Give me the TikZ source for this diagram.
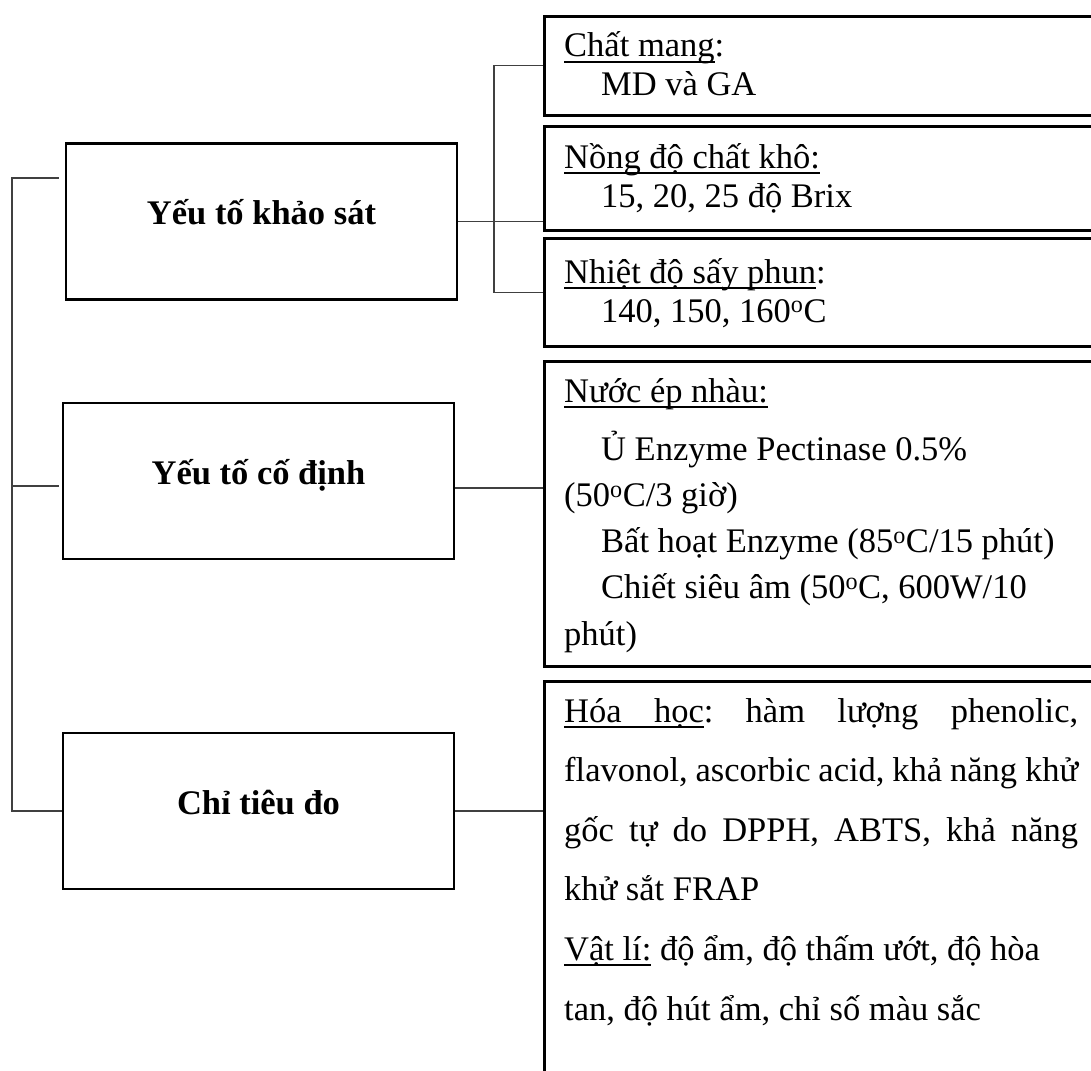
\documentclass[tikz,border=0pt]{standalone}
\usepackage{fontspec}
\setmainfont{Liberation Serif}
\usetikzlibrary{positioning}
\newsavebox{\ulbox}
\newcommand{\ulword}[1]{\sbox{\ulbox}{#1}\rlap{\rule[-5.6pt]{\wd\ulbox}{1.6pt}}\usebox{\ulbox}}
\newcommand{\ulgap}{\leaders\hrule height -4pt depth 5.6pt\hskip\fontdimen2\font plus\fontdimen3\font minus\fontdimen4\font\relax}
\tikzset{
  mainbox/.style={rectangle, draw=black, line width=2.6pt, minimum width=391pt,
                  minimum height=156pt, inner sep=0pt, text height=30pt, text depth=24pt,
                  font=\fontsize{34.5pt}{40pt}\selectfont\bfseries},
  infobox/.style={rectangle, draw=black, line width=2.6pt, anchor=north west,
                  minimum width=600pt, inner sep=0pt},
  infotext/.style={anchor=base west, inner sep=0pt, text width=520pt, align=flush left,
                   font=\fontsize{34.5pt}{39pt}\selectfont\frenchspacing},
  link/.style={line width=1.3pt, draw=black!75},
}

\begin{document}
\frenchspacing
\begin{tikzpicture}[x=1pt, y=-1pt]
    \useasboundingbox (0,0) rectangle (1091,1070);
    % left column
    \node[mainbox] (survey) at (261.5,221.5) {Yếu tố khảo sát};
    \node[mainbox] (fixed) at (258.5,481) {Yếu tố cố định};
    \node[mainbox] (assess) at (258.5,811) {Chỉ tiêu đo};
    % right column
    \node[infobox, minimum height=99pt] (carrier) at (543,15) {};
    \node[infobox, minimum height=104pt] (solids) at (543,125) {};
    \node[infobox, minimum height=108pt] (temp) at (543,237) {};
    \node[infobox, minimum height=305pt] (juice) at (543,360) {};
    \node[infobox, minimum height=420pt] (assay) at (543,680) {};
    \node[infotext] (carriertxt) at (564,57) {\ulword{Chất mang}:\\\hspace*{37pt}MD và GA};
    \node[infotext] (solidstxt) at (564,168) {\ulword{Nồng độ chất khô:}\\\hspace*{37pt}15, 20, 25 độ Brix};
    \node[infotext] (temptxt) at (564,283) {\ulword{Nhiệt độ sấy phun}:\\\hspace*{37pt}140, 150, 160\textsuperscript{o}C};
    \node[infotext, font=\fontsize{34.5pt}{46.25pt}\selectfont] (juicetxt) at (564,402)
      {\ulword{Nước ép nhàu:}\\[11.75pt]
       \hspace*{37pt}Ủ Enzyme Pectinase 0.5\%\\
       (50\textsuperscript{o}C/3 giờ)\\
       \hspace*{37pt}Bất hoạt Enzyme (85\textsuperscript{o}C/15 phút)\\
       \hspace*{37pt}Chiết siêu âm (50\textsuperscript{o}C, 600W/10\\
       phút)};
    \node[infotext, text width=514pt, align=justify, font=\fontsize{34.5pt}{59.6pt}\selectfont] (chemtxt) at (564,722)
      {\ulword{Hóa}\ulgap\ulword{học}: hàm lượng phenolic,\linebreak flavonol, ascorbic acid, khả năng khử\linebreak
       gốc tự do DPPH, ABTS, khả năng\linebreak khử sắt FRAP};
    \node[infotext, font=\fontsize{34.5pt}{60pt}\selectfont] (phystxt) at (564,960)
      {\ulword{Vật lí:} độ ẩm, độ thấm ướt, độ hòa\\tan, độ hút ẩm, chỉ số màu sắc};
    % connectors
    \coordinate (lfork) at (12,0);
    \coordinate (rfork) at (494,0);
    \coordinate (survtop) at ([xshift=-6pt,yshift=43.5pt]survey.west);
    \coordinate (fixedmid) at ([xshift=-3pt,yshift=-5pt]fixed.west);
    \coordinate (fixedout) at ([yshift=-7pt]fixed.east);
    \draw[link] (survtop) -| (lfork |- assess.west) -- (assess.west);
    \draw[link] (fixedmid) -- (fixedmid -| lfork);
    \draw[link] (survey.east) -- (survey.east -| solids.west);
    \draw[link] (carrier.west) -| (rfork |- temp.west) -- (temp.west);
    \draw[link] (fixedout) -- (fixedout -| juice.west);
    \draw[link] (assess.east) -- (assess.east -| assay.west);
\end{tikzpicture}
\end{document}
